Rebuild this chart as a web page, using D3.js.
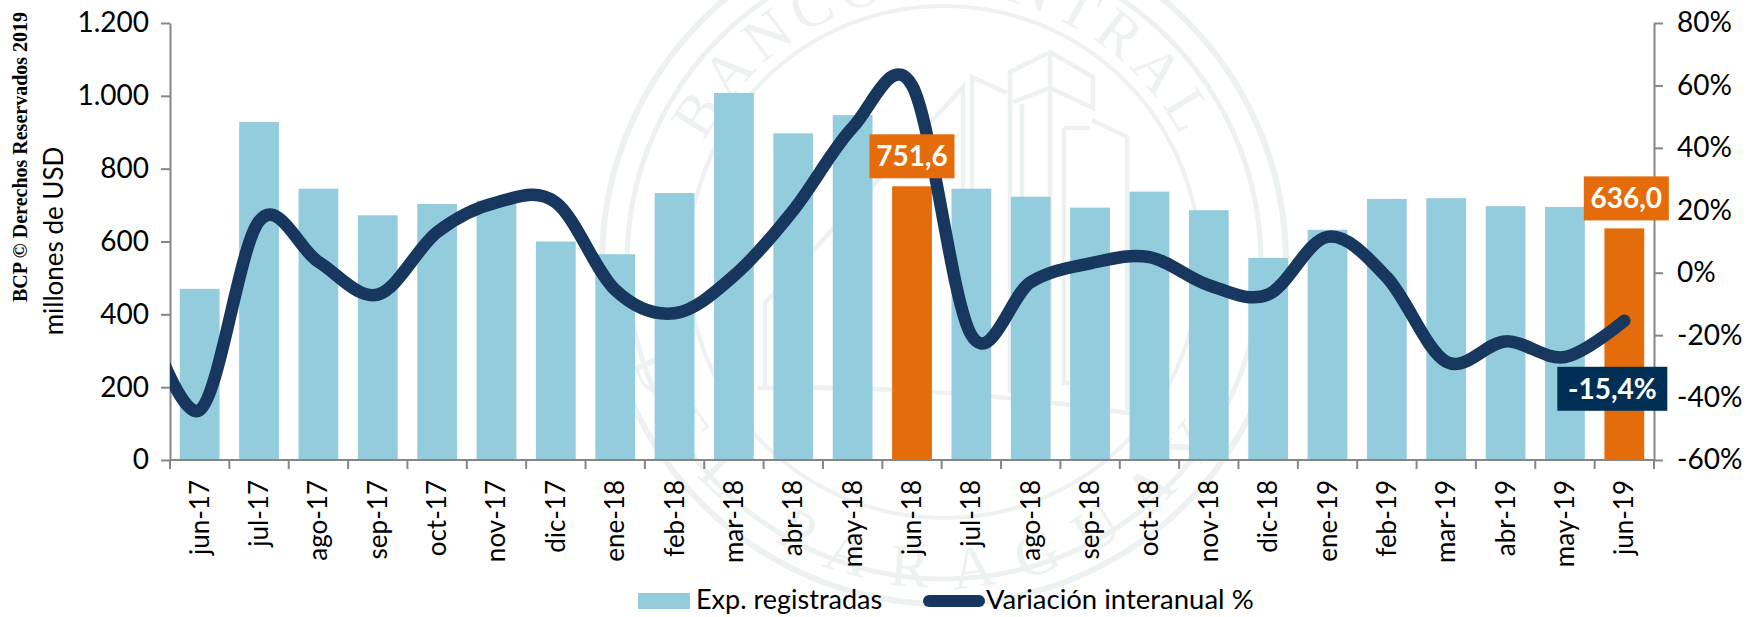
<!DOCTYPE html>
<html>
<head>
<meta charset="utf-8">
<script src="https://cdn.jsdelivr.net/npm/d3@7"></script>
<style>
  html, body { margin: 0; padding: 0; background: #fff; }
  text { font-family: Lato, "Noto Sans", sans-serif; fill: #000; }
  .wm text { font-family: "Liberation Serif", serif; font-size: 60px; fill: #edf1f0; stroke: none; }
</style>
</head>
<body>
<div id="chart"></div>
<script>
// values
var months = ["jun-17","jul-17","ago-17","sep-17","oct-17","nov-17","dic-17","ene-18","feb-18","mar-18","abr-18","may-18","jun-18","jul-18","ago-18","sep-18","oct-18","nov-18","dic-18","ene-19","feb-19","mar-19","abr-19","may-19","jun-19"];
var exports_reg = [470,928,745,672,703,712,600,565,733,1008,897,947,751.6,745,723,693,737,686,555,632,717,719,697,695,636];
var variation = [-44,16.5,3.5,-7,13,22.5,22.5,-5.5,-13,-1,20,46.5,60,-20,-3,3,5,-4,-7,11.5,-1.5,-28.5,-22,-27,-15.4];
// month before the window, the line comes in from it and is cut at the axis
var variationBefore = -9;
var highlighted = ["jun-18","jun-19"];
var leftTicks = [0,200,400,600,800,1000,1200];
var rightTicks = [-60,-40,-20,0,20,40,60,80];

var width = 1750, height = 617;
var margin = {top: 23, right: 96, bottom: 157, left: 170};

var svg = d3.select("#chart").append("svg")
    .attr("width", width)
    .attr("height", height)
    .style("display", "block");

// watermark seal behind everything
var wm = svg.append("g")
    .attr("class", "wm")
    .attr("fill", "none")
    .attr("stroke", "#edf1f0");
var seal = wm.append("g").attr("transform", "translate(944,262)");
[[342,6],[317,5],[256,4]].forEach(function(c) {
    seal.append("circle").attr("r", c[0]).attr("stroke-width", c[1]);
});
seal.append("path").attr("id", "arcTop").attr("stroke", "none").attr("d", "M-268,0A268,268 0 0 1 268,0");
seal.append("path").attr("id", "arcBot").attr("stroke", "none").attr("d", "M-326,0A326,326 0 0 0 326,0");
seal.append("text").style("letter-spacing", "7px")
    .append("textPath").attr("href", "#arcTop").attr("startOffset", "50%").attr("text-anchor", "middle").text("BANCO CENTRAL");
seal.append("text").style("letter-spacing", "26px")
    .append("textPath").attr("href", "#arcBot").attr("startOffset", "47%").attr("text-anchor", "middle").text("DEL PARAGUAY");
// buildings
var buildings = [
    "M765,386V303L963,87V390",
    "M972,388V77L1007,93",
    "M1010,393V72L1050,52L1093,77V108L1050,88L1013,102",
    "M1022,394V104",
    "M1050,400V52",
    "M1092,120L1127,137V410",
    "M1064,128H1090M1064,128V383H1090",
    "M757,388Q945,384 1140,415"
];
wm.selectAll("path.bld")
    .data(buildings)
    .join("path")
    .attr("class", "bld")
    .attr("stroke-width", 4.5)
    .attr("d", function(d) { return d; });

var x = d3.scaleBand()
    .domain(months)
    .range([margin.left, width - margin.right])
    .paddingInner(0.33)
    .paddingOuter(0.165);
var step = x.step();

var yLeft = d3.scaleLinear().domain([0, 1200]).range([height - margin.bottom, margin.top]);
var yRight = d3.scaleLinear().domain([-60, 80]).range([height - margin.bottom, margin.top]);

svg.selectAll("rect.bar")
    .data(months)
    .join("rect")
    .attr("class", "bar")
    .attr("x", function(d) { return x(d); })
    .attr("width", x.bandwidth())
    .attr("y", function(d, i) { return yLeft(exports_reg[i]); })
    .attr("height", function(d, i) { return yLeft(0) - yLeft(exports_reg[i]); })
    .attr("fill", function(d) { return highlighted.indexOf(d) >= 0 ? "#e46c0a" : "#93cddd"; });

// axes
function styleAxis(g) {
    g.selectAll("path, line").attr("stroke", "#868686").attr("stroke-width", 2);
}
var left = svg.append("g")
    .attr("transform", "translate(" + margin.left + ",0)")
    .call(d3.axisLeft(yLeft).tickValues(leftTicks).tickSize(9).tickSizeOuter(0)
        .tickFormat(function(d) { return d3.format(",")(d).replace(",", "."); }))
    .call(styleAxis);
left.selectAll("text").style("font-size", "28px").attr("dx", "-9");

var right = svg.append("g")
    .attr("transform", "translate(" + (width - margin.right) + ",0)")
    .call(d3.axisRight(yRight).tickValues(rightTicks).tickSize(9).tickSizeOuter(0)
        .tickFormat(function(d) { return d + "%"; }))
    .call(styleAxis);
right.selectAll("text").style("font-size", "28px").attr("dx", "11").attr("text-anchor", "start");

var bottom = svg.append("g").attr("transform", "translate(0," + yLeft(0) + ")");
bottom.append("line").attr("x1", margin.left).attr("x2", width - margin.right).attr("stroke", "#868686").attr("stroke-width", 2);
bottom.selectAll("line.tick")
    .data(d3.range(months.length + 1))
    .join("line")
    .attr("class", "tick")
    .attr("x1", function(d) { return margin.left + d * step; })
    .attr("x2", function(d) { return margin.left + d * step; })
    .attr("y2", 9)
    .attr("stroke", "#868686").attr("stroke-width", 2);
bottom.selectAll("text")
    .data(months)
    .join("text")
    .attr("transform", function(d) { return "translate(" + (x(d) + x.bandwidth() / 2 + 9) + ",20) rotate(-90)"; })
    .attr("text-anchor", "end")
    .style("font-size", "26px")
    .text(function(d) { return d; });

// line, clipped at the left axis
svg.append("clipPath").attr("id", "plot").append("rect")
    .attr("x", margin.left).attr("y", 0).attr("width", width - margin.left).attr("height", height);
var linePts = [[months[0], variationBefore, -1]].concat(months.map(function(m, i) { return [m, variation[i], i]; }));
var line = d3.line()
    .x(function(d) { return x(months[0]) + x.bandwidth() / 2 + d[2] * step; })
    .y(function(d) { return yRight(d[1]); })
    .curve(d3.curveCatmullRom.alpha(0));
svg.append("path")
    .attr("clip-path", "url(#plot)")
    .attr("d", line(linePts))
    .attr("fill", "none")
    .attr("stroke", "#17375e")
    .attr("stroke-width", 12.5)
    .attr("stroke-linecap", "round");

// value boxes
function box(cx, top, w, h, fill, label) {
    svg.append("rect").attr("x", cx - w / 2).attr("y", top).attr("width", w).attr("height", h).attr("fill", fill);
    svg.append("text").attr("x", cx).attr("y", top + h / 2 + 10)
        .attr("text-anchor", "middle")
        .style("font-size", "28px").style("font-weight", "700").style("fill", "#fff")
        .text(label);
}
box(x("jun-18") + x.bandwidth() / 2, yLeft(751.6) - 52, 85, 44, "#e46c0a", "751,6");
box(x("jun-19") + x.bandwidth() / 2 + 2, yLeft(636) - 52, 85, 44, "#e46c0a", "636,0");
box(x("jun-19") + x.bandwidth() / 2 - 12, yRight(-15.4) + 46, 110, 44, "#002f56", "-15,4%");

// axis titles
svg.append("text")
    .attr("transform", "translate(63,241) rotate(-90)")
    .attr("text-anchor", "middle")
    .style("font-size", "26px")
    .text("millones de USD");
svg.append("text")
    .attr("transform", "translate(27,157) rotate(-90)")
    .attr("text-anchor", "middle")
    .style("font-family", "Liberation Serif")
    .style("font-weight", "700")
    .style("font-size", "20px")
    .text("BCP © Derechos Reservados 2019");

// legend
svg.append("rect").attr("x", 638).attr("y", 593).attr("width", 52).attr("height", 16).attr("fill", "#93cddd");
svg.append("text").attr("x", 696).attr("y", 609).style("font-size", "27px").text("Exp. registradas");
svg.append("line").attr("x1", 929).attr("x2", 979).attr("y1", 601).attr("y2", 601)
    .attr("stroke", "#17375e").attr("stroke-width", 12).attr("stroke-linecap", "round");
svg.append("text").attr("x", 986).attr("y", 609).style("font-size", "27.5px").text("Variación interanual %");
</script>
</body>
</html>
